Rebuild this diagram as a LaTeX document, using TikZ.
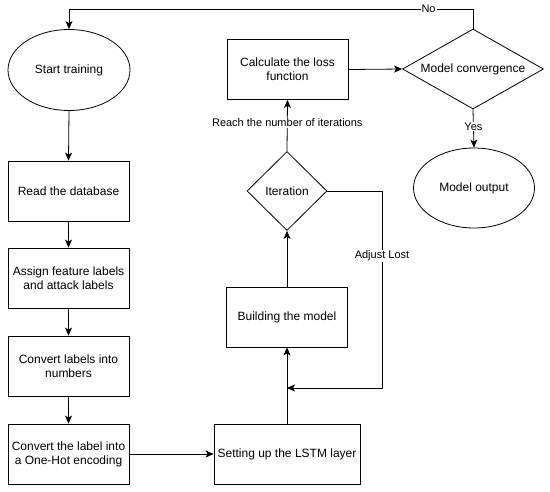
\documentclass[tikz,border=0pt]{standalone}
\usepackage{fontspec}
\setmainfont{Liberation Sans}
\usetikzlibrary{shapes.geometric,arrows.meta}

\begin{document}
\begin{tikzpicture}[x=1pt, y=-1pt,
    every node/.style={font=\fontsize{12}{14}\selectfont, align=center, inner sep=0pt},
    procbox/.style={draw, rectangle, minimum width=121pt, minimum height=60pt},
    termnode/.style={draw, ellipse, minimum width=122pt, minimum height=81pt},
    decnode/.style={draw, diamond},
    lbl/.style={fill=white, inner sep=1pt, font=\fontsize{11}{13}\selectfont},
    arr/.style={-{Stealth[length=8pt,width=7pt,inset=2pt]}},
    line width=0.8pt]
\useasboundingbox (0,0) rectangle (550,491);
% left column
\node[termnode] (start) at (69,70) {Start training};
\node[procbox] (read) at (68.5,191) {Read the database};
\node[procbox] (assign) at (68.5,278) {Assign feature labels\\and attack labels};
\node[procbox] (convnum) at (68.5,366) {Convert labels into\\numbers};
\node[procbox] (onehot) at (68.5,454) {Convert the label into\\a One-Hot encoding};
% middle column
\node[procbox, minimum width=146pt] (lstm) at (287,454) {Setting up the LSTM layer};
\node[procbox] (build) at (287,317) {Building the model};
\node[decnode, aspect=1, minimum width=80pt, minimum height=79pt] (iter) at (287,191) {Iteration};
\node[procbox] (calc) at (287.5,69.5) {Calculate the loss\\function};
% right column
\node[decnode, aspect=1.76, minimum width=141pt, minimum height=80pt] (conv) at (473,69) {Model convergence};
\node[termnode, minimum width=121pt, minimum height=80pt] (out) at (474,188) {Model output};
\coordinate (ytop) at (0,9);
\coordinate (adj) at (382,388);

\foreach \a/\b in {start/read, read/assign, assign/convnum, convnum/onehot}
    \draw[arr] (\a.south) -- (\b.north);
\draw[arr] (onehot.east) -- (lstm.west);
\draw[arr] (lstm.north) -- (build.south);
\draw[arr] (build.north) -- (iter.south);
\draw[arr] (iter.north) -- node[lbl, pos=0.55] {Reach the number of iterations} (calc.south);
\draw[arr] (calc.east) -- (conv.west);
\draw[arr] (conv.south) -- node[lbl, pos=0.45] {Yes} (out.north);
\draw[arr] (conv.north) -- (conv.north |- ytop) -- node[lbl, pos=0.11] {No} (start.north |- ytop) -- (start.north);
\draw[arr] (iter.east) -| node[lbl, pos=0.665] {Adjust Lost} (adj) -- (build.south |- adj);
\end{tikzpicture}
\end{document}
